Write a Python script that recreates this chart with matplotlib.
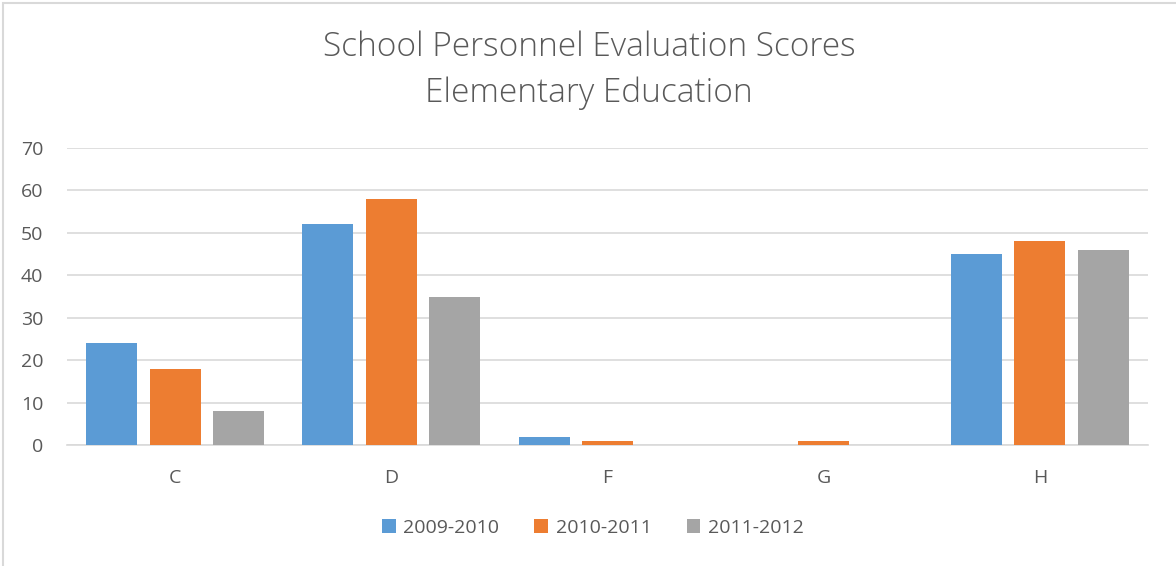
import matplotlib
matplotlib.use("Agg")
import matplotlib.pyplot as plt
import numpy as np
from matplotlib.patches import Rectangle

categories = ["C", "D", "F", "G", "H"]
series_names = ["2009-2010", "2010-2011", "2011-2012"]
s2009 = [24, 52, 2, 0, 45]
s2010 = [18, 58, 1, 1, 48]
s2011 = [8, 35, 0, 0, 46]
colors = ["#5b9bd5", "#ed7d31", "#a5a5a5"]
yticks = [0, 10, 20, 30, 40, 50, 60, 70]

plt.rcParams['font.family'] = ['Open Sans', 'DejaVu Sans']
fig = plt.figure(figsize=(11.76, 5.66), dpi=100)
ax = fig.add_axes([67/1176, 1-445/566, (1148-67)/1176, (445-148)/566])

x = np.arange(len(categories))
w = 0.236
off = 0.293
for i, (vals, name) in enumerate(zip([s2009, s2010, s2011], series_names)):
    ax.bar(x + (i-1)*off, vals, width=w, color=colors[i], label=name, zorder=3)

ax.set_xlim(-0.5, len(categories)-0.5)
ax.set_ylim(0, 70)
ax.set_yticks(yticks)
ax.set_xticks(x)
ax.set_xticklabels(categories)
ax.grid(axis='y', color='#d9d9d9', linewidth=1.2, zorder=0)
for s in ['top', 'right', 'left']:
    ax.spines[s].set_visible(False)
ax.spines['bottom'].set_color('#d9d9d9')
ax.spines['bottom'].set_linewidth(1.2)
ax.tick_params(axis='both', length=0, labelsize=14, colors='#595959')
ax.tick_params(axis='y', pad=17)
ax.tick_params(axis='x', pad=17)

fig.text(589/1176, 1-47/566, "School Personnel Evaluation Scores", ha='center', va='center',
         fontsize=24, color='#595959', fontweight='light')
fig.text(589/1176, 1-93/566, "Elementary Education", ha='center', va='center',
         fontsize=24, color='#595959', fontweight='light')

leg = fig.legend(loc='center', bbox_to_anchor=(593/1176, 1-528/566), ncol=3, frameon=False,
                 fontsize=14, handlelength=0.7, handleheight=0.7, handletextpad=0.4,
                 columnspacing=1.8)
for t in leg.get_texts():
    t.set_color('#595959')

fig.patches.append(Rectangle((3/1176, -0.1), 1.2, 1-3/566+0.1, transform=fig.transFigure,
                             fill=False, edgecolor='#d9d9d9', linewidth=1.5))

fig.savefig("out.png", dpi=100)
